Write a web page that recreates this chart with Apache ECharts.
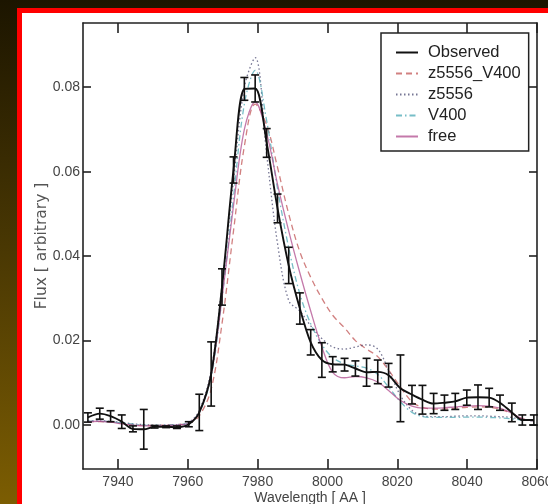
<!DOCTYPE html>
<html>
<head>
<meta charset="utf-8">
<script src="https://cdn.jsdelivr.net/npm/echarts@6/dist/echarts.min.js"></script>
<style>
  html, body { margin:0; padding:0; width:548px; height:504px; overflow:hidden;
    background: linear-gradient(to bottom, #1c1500 0%, #4a3803 50%, #7c5d02 100%); }
  #frame { position:absolute; left:17px; top:8px; width:640px; height:640px; background:#fff;
    border-left:5px solid #ff0000; border-top:5px solid #ff0000; }
  #chart { position:absolute; left:0; top:0; width:548px; height:504px; }
</style>
</head>
<body>
<div id="frame"></div>
<div id="chart"></div>
<script>
// ---- data ----
const wavelength = [7931.4, 7934.8, 7937.9, 7941.1, 7944.3, 7947.4, 7950.5, 7953.8, 7956.9, 7960.3,
  7963.3, 7966.7, 7969.8, 7973.1, 7976.2, 7979.3, 7982.6, 7985.7, 7988.9, 7992.1,
  7995.2, 7998.4, 8001.5, 8004.9, 8008.0, 8011.2, 8014.4, 8017.5, 8020.9, 8024.2,
  8027.2, 8030.4, 8033.5, 8036.6, 8039.9, 8043.1, 8046.3, 8049.4, 8052.8, 8055.8, 8059.1];
const observed = [0.0018, 0.0027, 0.0021, 0.0008, -0.0009, -0.0010, -0.0004, -0.0004, -0.0005, 0.0002,
  0.0030, 0.0121, 0.0327, 0.0604, 0.0796, 0.0797, 0.0668, 0.0513, 0.0378, 0.0276,
  0.0196, 0.0154, 0.0144, 0.0143, 0.0134, 0.0125, 0.0126, 0.0118, 0.0087, 0.0072,
  0.0060, 0.0051, 0.0053, 0.0056, 0.0065, 0.0066, 0.0065, 0.0053, 0.0030, 0.0012, 0.0012];
const observedErr = [0.0011, 0.0013, 0.0013, 0.0016, 0.0007, 0.0047, 0.0003, 0.0002, 0.0003, 0.0006,
  0.0043, 0.0076, 0.0043, 0.0031, 0.0027, 0.0032, 0.0034, 0.0034, 0.0043, 0.0037,
  0.0030, 0.0041, 0.0018, 0.0015, 0.0018, 0.0033, 0.0028, 0.0028, 0.0079, 0.0022,
  0.0034, 0.0024, 0.0018, 0.0019, 0.0018, 0.0029, 0.0022, 0.0018, 0.0022, 0.0012, 0.0012];
const modelZ5556V400 = [0.0008, 0.0008, 0.0007, 0.0004, 0.0001, -0.0001, -0.0001, 0.0000, 0.0001, 0.0004,
  0.0022, 0.0085, 0.0240, 0.0460, 0.0660, 0.0760, 0.0710, 0.0610, 0.0500, 0.0410,
  0.0350, 0.0300, 0.0260, 0.0230, 0.0200, 0.0180, 0.0162, 0.0130, 0.0090, 0.0055,
  0.0042, 0.0038, 0.0038, 0.0040, 0.0042, 0.0043, 0.0042, 0.0038, 0.0027, 0.0015, 0.0010];
const modelZ5556 = [0.0010, 0.0010, 0.0009, 0.0006, 0.0003, 0.0001, 0.0000, 0.0000, 0.0001, 0.0006,
  0.0035, 0.0130, 0.0330, 0.0580, 0.0800, 0.0870, 0.0640, 0.0430, 0.0295, 0.0270,
  0.0235, 0.0205, 0.0185, 0.0180, 0.0185, 0.0190, 0.0180, 0.0130, 0.0070, 0.0035,
  0.0022, 0.0020, 0.0020, 0.0021, 0.0022, 0.0022, 0.0021, 0.0020, 0.0018, 0.0013, 0.0010];
const modelV400 = [0.0009, 0.0009, 0.0008, 0.0005, 0.0002, 0.0000, -0.0001, 0.0000, 0.0001, 0.0005,
  0.0030, 0.0115, 0.0300, 0.0540, 0.0760, 0.0840, 0.0720, 0.0560, 0.0420, 0.0310,
  0.0240, 0.0190, 0.0160, 0.0145, 0.0140, 0.0135, 0.0120, 0.0090, 0.0055, 0.0030,
  0.0020, 0.0018, 0.0018, 0.0018, 0.0019, 0.0019, 0.0018, 0.0017, 0.0015, 0.0012, 0.0010];
const modelFree = [0.0008, 0.0009, 0.0007, 0.0003, 0.0000, -0.0002, -0.0002, -0.0001, 0.0000, 0.0005,
  0.0030, 0.0120, 0.0300, 0.0520, 0.0700, 0.0765, 0.0690, 0.0570, 0.0460, 0.0360,
  0.0270, 0.0185, 0.0125, 0.0112, 0.0115, 0.0112, 0.0102, 0.0082, 0.0058, 0.0045,
  0.0040, 0.0040, 0.0041, 0.0043, 0.0045, 0.0046, 0.0045, 0.0040, 0.0028, 0.0015, 0.0010];
const xTickValues = [7940, 7960, 7980, 8000, 8020, 8040, 8060];
const yTickValues = [0, 0.02, 0.04, 0.06, 0.08];
const legendNames = ['Observed', 'z5556_V400', 'z5556', 'V400', 'free'];

// ---- chart ----
const sans = "'Liberation Sans', Arial, sans-serif";
const pairs = arr => wavelength.map((w, i) => [w, arr[i]]);
const chart = echarts.init(document.getElementById('chart'), null, { renderer: 'canvas' });

const axisLineStyle = { color: '#222', width: 1.6 };
const baseX = {
  type: 'value', min: 7930, max: 8060, interval: 10,
  splitLine: { show: false },
  axisLine: { show: true, onZero: false, lineStyle: axisLineStyle },
  axisTick: { show: true, inside: true, length: 10, customValues: xTickValues, lineStyle: axisLineStyle },
};
const baseY = {
  type: 'value', min: -0.0104, max: 0.0952,
  splitLine: { show: false },
  axisLine: { show: true, onZero: false, lineStyle: axisLineStyle },
  axisTick: { show: true, inside: true, length: 8, customValues: yTickValues, lineStyle: axisLineStyle },
};

const option = {
  animation: false,
  backgroundColor: 'transparent',
  grid: { left: 83, top: 23, right: 11, bottom: 35, containLabel: false, outerBoundsMode: 'none' },
  xAxis: [
    Object.assign({}, baseX, {
      position: 'bottom',
      name: 'Wavelength [ AA ]', nameLocation: 'middle', nameGap: 22, nameMoveOverlap: false,
      nameTextStyle: { fontFamily: sans, fontSize: 14, color: '#444' },
      axisLabel: { show: true, customValues: xTickValues, margin: 6, fontFamily: sans, fontSize: 14, color: '#444',
        formatter: v => String(Math.round(v)) },
    }),
    Object.assign({}, baseX, { position: 'top', axisLabel: { show: false } }),
  ],
  yAxis: [
    Object.assign({}, baseY, {
      position: 'left',
      name: 'Flux [ arbitrary ]', nameLocation: 'middle', nameGap: 33, nameMoveOverlap: false,
      nameTextStyle: { fontFamily: "'DejaVu Sans', sans-serif", fontSize: 15.5, color: '#555' },
      axisLabel: { show: true, customValues: yTickValues, margin: 3, fontFamily: sans, fontSize: 14, color: '#444',
        formatter: v => v.toFixed(2) },
    }),
    Object.assign({}, baseY, { position: 'right', axisLabel: { show: false } }),
  ],
  legend: {
    data: legendNames,
    orient: 'vertical', left: 381, top: 33,
    padding: [10, 8, 5, 14], itemGap: 2, itemWidth: 22, itemHeight: 14,
    borderColor: '#222', borderWidth: 1.5, backgroundColor: '#fff',
    itemStyle: { opacity: 0 },
    textStyle: { fontFamily: sans, fontSize: 16.5, lineHeight: 19, color: '#222', padding: [0, 0, 0, 5] },
    selectedMode: false,
  },
  series: [
    { name: 'z5556_V400', type: 'line', data: pairs(modelZ5556V400), smooth: 0.35, symbol: 'none', z: 3,
      lineStyle: { color: '#c25555', width: 1.3, type: [6, 4], opacity: 0.75 }, itemStyle: { color: '#c25555' } },
    { name: 'z5556', type: 'line', data: pairs(modelZ5556), smooth: 0.35, symbol: 'none', z: 3,
      lineStyle: { color: '#3c3c66', width: 1.3, type: [1.5, 2.5], opacity: 0.7 }, itemStyle: { color: '#3c3c66' } },
    { name: 'V400', type: 'line', data: pairs(modelV400), smooth: 0.35, symbol: 'none', z: 3,
      lineStyle: { color: '#4aa8b4', width: 1.3, type: [6, 3, 1.5, 3], opacity: 0.75 }, itemStyle: { color: '#4aa8b4' } },
    { name: 'free', type: 'line', data: pairs(modelFree), smooth: 0.35, symbol: 'none', z: 3,
      lineStyle: { color: '#b04c8e', width: 1.3, opacity: 0.75 }, itemStyle: { color: '#b04c8e' } },
    { name: 'Observed', type: 'line', data: pairs(observed), smooth: 0.3, symbol: 'none', z: 5,
      lineStyle: { color: '#111', width: 1.9 }, itemStyle: { color: '#111' } },
    { name: 'Observed errors', type: 'custom', z: 6,
      data: wavelength.map((w, i) => [w, observed[i], observedErr[i]]),
      encode: { x: 0, y: 1 },
      renderItem: function (params, api) {
        const x = api.value(0), y = api.value(1), e = api.value(2);
        const t = api.coord([x, y + e]);
        const b = api.coord([x, y - e]);
        const w = 4;
        const st = { stroke: '#111', lineWidth: 1.6 };
        return { type: 'group', children: [
          { type: 'line', shape: { x1: t[0], y1: t[1], x2: b[0], y2: b[1] }, style: st },
          { type: 'line', shape: { x1: t[0] - w, y1: t[1], x2: t[0] + w, y2: t[1] }, style: st },
          { type: 'line', shape: { x1: b[0] - w, y1: b[1], x2: b[0] + w, y2: b[1] }, style: st },
        ] };
      },
    },
  ],
};
chart.setOption(option);
</script>
</body>
</html>
